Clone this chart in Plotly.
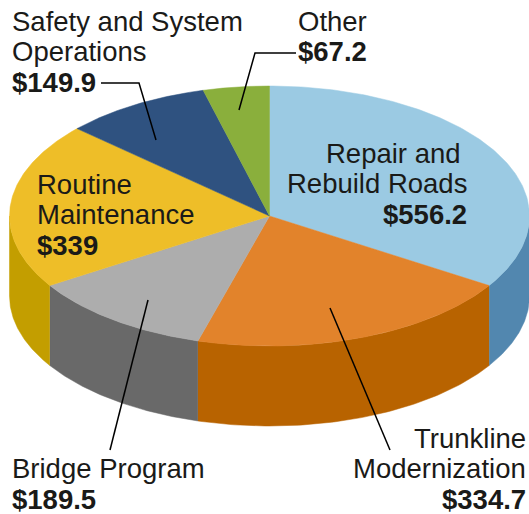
import numpy as np
import plotly.graph_objects as go

categories = [["Repair and", "Rebuild Roads"], ["Trunkline", "Modernization"], ["Bridge Program"],
              ["Routine", "Maintenance"], ["Safety and System", "Operations"], ["Other"]]
values = [556.2, 334.7, 189.5, 339, 149.9, 67.2]
value_labels = ["$556.2", "$334.7", "$189.5", "$339", "$149.9", "$67.2"]
top_colors = ["#9BCAE3", "#E2832B", "#ADADAD", "#EEBE28", "#2F5280", "#8AAF3C"]
side_colors = ["#5287AF", "#B86300", "#696969", "#C39E00", "#1F3A60", "#5F7F20"]

W, H = 529, 514
CX, CY, RX, RY, DEPTH = 269.5, 216, 260, 130, 80
FONT = "Liberation Sans, Arial, sans-serif"
FS = 27.5
LINE_GAP = 30.7
TXT = "#1a1a18"

label_pos = [(467.5, 153, "right"), (526.5, 438, "right"), (11, 468.5, "left"),
             (36, 184, "left"), (11, 21, "left"), (297, 21, "left")]
first_line_dx = [-5.5, 0, 0, 0, 0, 0]
leaders = [None,
           [(330, 308), (390, 450)],
           [(148, 300), (110, 450)],
           None,
           [(101, 83), (139, 83), (156, 140)],
           [(239, 110), (255, 53), (296, 53)]]


def ex(t):
    return CX + RX * np.sin(t)


def ey(t):
    return CY - RY * np.cos(t)


fracs = np.array(values) / sum(values)
edges = np.concatenate([[0], np.cumsum(fracs)]) * 2 * np.pi

fig = go.Figure()

# outer wall: only the part of each slice that faces the viewer
for i in range(len(values)):
    a, b = max(edges[i], np.pi / 2), min(edges[i + 1], 3 * np.pi / 2)
    if b <= a:
        continue
    t = np.linspace(a, b, 80)
    xs = np.concatenate([ex(t), ex(t[::-1])])
    ys = np.concatenate([ey(t), ey(t[::-1]) + DEPTH])
    fig.add_trace(go.Scatter(x=xs, y=ys, mode="lines", fill="toself", fillcolor=side_colors[i],
                             line=dict(color=side_colors[i], width=0.5), hoverinfo="skip"))

# top face
for i in range(len(values)):
    t = np.linspace(edges[i], edges[i + 1], 160)
    xs = np.concatenate([[CX], ex(t), [CX]])
    ys = np.concatenate([[CY], ey(t), [CY]])
    fig.add_trace(go.Scatter(x=xs, y=ys, mode="lines", fill="toself", fillcolor=top_colors[i],
                             line=dict(color=top_colors[i], width=0.5), hoverinfo="skip"))

# leader lines
for pts in leaders:
    if pts:
        fig.add_trace(go.Scatter(x=[p[0] for p in pts], y=[p[1] for p in pts], mode="lines",
                                 line=dict(color="#000000", width=1.5), hoverinfo="skip"))

# one annotation per text line, so the tight line spacing of the reference can be kept
for cat, val, (lx, ly, anchor), dx in zip(categories, value_labels, label_pos, first_line_dx):
    lines = cat + [f"<b>{val}</b>"]
    for n, line in enumerate(lines):
        fig.add_annotation(x=lx + (dx if n == 0 else 0), y=ly + n * LINE_GAP, xref="x", yref="y",
                           text=line, showarrow=False,
                           xanchor=anchor, yanchor="middle", align=anchor, borderpad=0,
                           font=dict(family=FONT, size=FS, color=TXT))

fig.update_layout(width=W, height=H, margin=dict(l=0, r=0, t=0, b=0), showlegend=False,
                  paper_bgcolor="white", plot_bgcolor="white",
                  xaxis=dict(range=[0, W], visible=False, fixedrange=True),
                  yaxis=dict(range=[H, 0], visible=False, fixedrange=True))
fig.write_html("out.html", config={"displayModeBar": False},
               post_script="document.body.style.margin='0';document.body.style.overflow='hidden';")
